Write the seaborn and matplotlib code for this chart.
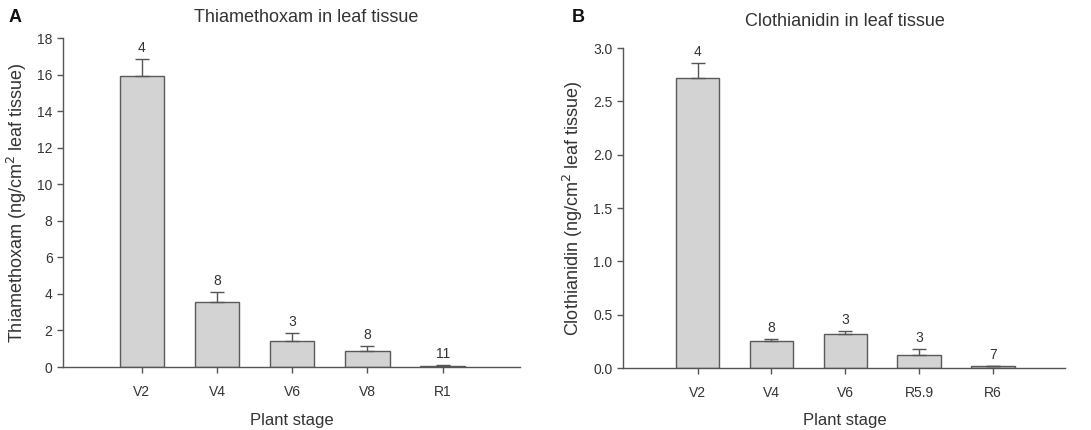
import numpy as np
import pandas as pd
import matplotlib
matplotlib.use("Agg")
import matplotlib.pyplot as plt
import seaborn as sns

# Panel A: thiamethoxam
stages_a = ["V2", "V4", "V6", "V8", "R1"]
means_a = [15.9, 3.55, 1.45, 0.85, 0.08]
sem_a = [0.95, 0.55, 0.40, 0.30, 0.04]
n_a = [4, 8, 3, 8, 11]

# Panel B: clothianidin
stages_b = ["V2", "V4", "V6", "R5.9", "R6"]
means_b = [2.72, 0.25, 0.32, 0.12, 0.015]
sem_b = [0.145, 0.025, 0.03, 0.06, 0.008]
n_b = [4, 8, 3, 3, 7]

sns.set_style("ticks")
plt.rcParams['font.family'] = ['Liberation Sans', 'DejaVu Sans']

W, H = 1091, 430
fig = plt.figure(figsize=(W / 100, H / 100), dpi=100)
ax_a = fig.add_axes([0.0577, 0.1465, 0.419, 0.765])
ax_b = fig.add_axes([0.571, 0.144, 0.405, 0.744])

grey_txt = "#333333"
spine_c = "#555555"


def draw_panel(ax, stages, means, sem, ns, ylim, yticks, yfmt, ylabel, xlim):
    df = pd.DataFrame({"stage": stages, "mean": means})
    sns.barplot(data=df, x="stage", y="mean", ax=ax, color="#d3d3d3",
                edgecolor="#5a5a5a", linewidth=1.0, width=0.59, saturation=1)
    x = np.arange(len(stages))
    ax.errorbar(x, means, yerr=[np.zeros(len(sem)), sem], fmt="none",
                ecolor="#555555", elinewidth=1.0, capsize=5, capthick=1.0)
    top = np.array(means) + np.array(sem)
    off = (ylim[1] - ylim[0]) * 0.012
    for xi, t, n in zip(x, top, ns):
        ax.text(xi, t + off, str(n), ha="center", va="bottom", fontsize=10, color=grey_txt)
    ax.set_xlim(*xlim)
    ax.set_ylim(*ylim)
    ax.set_yticks(yticks)
    ax.set_yticklabels([yfmt.format(v) for v in yticks])
    sns.despine(ax=ax)
    for s in ["left", "bottom"]:
        ax.spines[s].set_color(spine_c)
        ax.spines[s].set_linewidth(1.0)
    ax.tick_params(axis="both", colors=spine_c, labelcolor=grey_txt, labelsize=10,
                   length=4, width=1.0, direction="out")
    ax.tick_params(axis="x", pad=9)
    ax.set_xlabel("")
    ax.set_ylabel(ylabel, fontsize=13, color=grey_txt, labelpad=6)


draw_panel(ax_a, stages_a, means_a, sem_a, n_a, (0, 18), list(range(0, 19, 2)), "{:d}",
           r"Thiamethoxam (ng/cm$^2$ leaf tissue)", (-1.05, 5.03))
draw_panel(ax_b, stages_b, means_b, sem_b, n_b, (0, 3.0), [0, 0.5, 1.0, 1.5, 2.0, 2.5, 3.0], "{:.1f}",
           r"Clothianidin (ng/cm$^2$ leaf tissue)", (-1.01, 4.97))

# titles, panel letters and x labels in figure pixels
def fx(px):
    return px / W

def fy(py):
    return 1 - py / H

fig.text(fx(306), fy(17), "Thiamethoxam in leaf tissue", ha="center", va="center",
         fontsize=13, color=grey_txt)
fig.text(fx(845), fy(22), "Clothianidin in leaf tissue", ha="center", va="center",
         fontsize=13, color=grey_txt)
fig.text(fx(9), fy(17), "A", ha="left", va="center", fontsize=13, fontweight="bold", color="#111111")
fig.text(fx(572), fy(17), "B", ha="left", va="center", fontsize=13, fontweight="bold", color="#111111")
fig.text(fx(292), fy(420), "Plant stage", ha="center", va="center", fontsize=12, color=grey_txt)
fig.text(fx(845), fy(420), "Plant stage", ha="center", va="center", fontsize=12, color=grey_txt)

fig.savefig("out.png", dpi=100)
